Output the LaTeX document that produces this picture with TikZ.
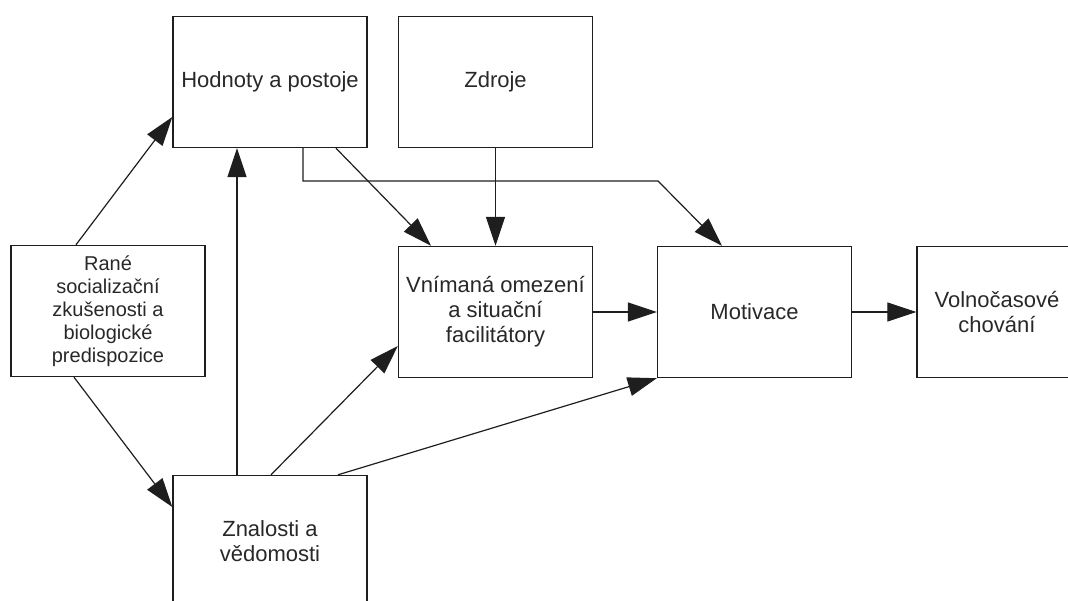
\documentclass[tikz,border=0pt]{standalone}
\usepackage{fontspec}
\setmainfont{Liberation Sans}
\usetikzlibrary{arrows.meta,calc,positioning}
\definecolor{LineBlack}{RGB}{30,30,30}
\definecolor{TextGray}{RGB}{40,40,40}

\begin{document}
\begin{tikzpicture}[x=1pt,y=-1pt,box/.style={draw=LineBlack,line width=1.4pt,minimum width=194pt,minimum height=131pt,align=center,text=TextGray,font=\fontsize{22}{25}\selectfont},>={Triangle[length=29pt,width=19pt]},arr/.style={->,line width=1.2pt,draw=LineBlack}]
\useasboundingbox (0,0) rectangle (1068,601);
\clip (0,0) rectangle (1068,601);
\node[box,font=\fontsize{20}{23}\selectfont] (rane) at (108,311) {Rané\\socializační\\zkušenosti a\\biologické\\predispozice};
\node[box] (hodnoty) at (270,82) {Hodnoty a postoje};
\node[box] (zdroje) at (495.5,82) {Zdroje};
\node[box] (vnimana) at (495.5,312) {Vnímaná omezení\\a situační\\facilitátory};
\node[box] (motivace) at (754.5,312) {Motivace};
\node[box,minimum width=160pt] (chovani) at (997,312) {Volnočasové\\chování};
\node[box] (znalosti) at (270,541) {Znalosti a\\vědomosti};
\coordinate (ohyb) at (658,181);
\draw[arr] (rane.north -| 76,0) -- (hodnoty.west |- 0,117);
\draw[arr] (rane.south -| 74,0) -- (znalosti.west |- 0,507);
\draw[arr] (znalosti.north -| 237,0) -- (hodnoty.south -| 237,0);
\draw[arr] (hodnoty.south -| 336,0) -- (vnimana.north -| 431,0);
\draw[arr] (hodnoty.south -| 303,0) |- (ohyb) -- (motivace.north -| 722,0);
\draw[arr] (zdroje.south) -- (vnimana.north);
\draw[arr] (znalosti.north -| 271,0) -- (vnimana.west |- 0,346);
\draw[arr] (znalosti.north -| 338,0) -- (motivace.south west);
\draw[arr] (vnimana.east) -- (motivace.west);
\draw[arr] (motivace.east) -- (chovani.west);
\end{tikzpicture}
\end{document}
